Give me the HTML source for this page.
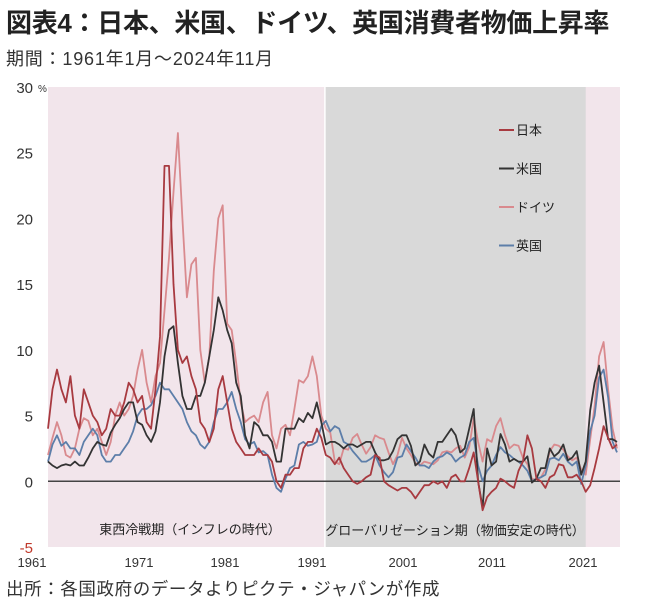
<!DOCTYPE html>
<html><head><meta charset="utf-8">
<style>
body{margin:0;background:#fff;width:649px;height:609px;overflow:hidden;font-family:"Liberation Sans","Noto Sans CJK JP",sans-serif;}
.t{position:absolute;white-space:nowrap;color:#222;}
</style></head>
<body>
<div class="t" style="left:6px;top:3px;font-size:26px;font-weight:bold;letter-spacing:-0.3px;">図表4：日本、米国、ドイツ、英国消費者物価上昇率</div>
<div class="t" style="left:6px;top:45px;font-size:18px;letter-spacing:0.8px;color:#333;">期間：1961年1月～2024年11月</div>
<div class="t" style="left:6px;top:576px;font-size:17.5px;letter-spacing:0.6px;color:#333;">出所：各国政府のデータよりピクテ・ジャパンが作成</div>
<svg id="chart" width="649" height="609" style="position:absolute;left:0;top:0" xmlns="http://www.w3.org/2000/svg"></svg>
<script>
const yTicks=[30,25,20,15,10,5,0,-5];
const xTickLabels=["1961","1971","1981","1991","2001","2011","2021"];
const seriesNames=["日本","米国","ドイツ","英国"];
const startYear=1961, stepYears=0.5;
const japan=[4,7,8.5,7,6,8,5,4,7,6,5,4.5,3.5,4,5.5,5,5,6,7.5,7,
6,6.5,4.5,4,7,11,24,24,15,10,9,9.5,8,7,4.5,4,3,4,7,8,
6,4,3,2.5,2,2,2,2.5,2,2,1.5,0,-0.5,0.5,0.5,1,1,2.5,3,3,
4,3.3,2,1.8,1.3,1.8,1,0.5,0,-0.2,0,0.3,0.5,2,1.8,0,-0.3,-0.5,-0.7,-0.5,
-0.5,-0.8,-1.3,-0.8,-0.3,-0.3,0,-0.2,0,-0.5,0.3,0.5,0,0,1,2.2,0,-2.2,-1.2,-0.8,
-0.5,0.2,0,-0.3,-0.5,0.8,1.5,3.5,2.5,0.2,0,-0.5,0.3,0.5,1.3,1.2,0.3,0.3,0.5,0,
-0.8,-0.3,1,2.5,4.2,3.3,2.5,2.8];
const usa=[1.5,1.2,1,1.2,1.3,1.2,1.5,1.2,1.2,1.8,2.5,3,2.8,2.7,3.7,4.3,4.8,5.5,6,6,
4.5,4.3,3.5,3,3.8,6,9.5,11.5,11.8,9,6.5,5.5,5.5,6.5,6.5,7.5,9.5,11.5,14,13,
11.5,10.5,7.5,6.5,3.5,2.5,4.5,4.2,3.5,3.5,3,1.5,1.5,4,4,4,4.8,4.5,5.2,4.8,
6,4.5,2.8,3,3,2.8,2.5,2.8,2.8,2.6,2.8,3,3,2.2,1.6,1.6,1.7,2.3,3.2,3.5,
3.5,2.7,1.2,1.5,2.8,2.1,1.8,3,3,3.5,4,3.5,2.2,2.5,4,5.5,0,-2,2.5,1.2,
1.5,3.6,2.8,1.5,1.7,1.5,1.5,1.9,-0.1,0.2,1,1,2.5,1.9,2.2,2.8,1.6,1.8,2.3,0.5,
1.5,5.4,7.5,8.8,6,3.2,3.2,3];
const germany=[2,3.3,4.5,3.5,2,1.8,2.5,4,4.8,4.6,3.5,4,3,2,3,5,6,5,5.5,6.5,
8.5,10,7.5,6,8,9,13,17,22,26.5,20,14,16.5,17,10,7.5,9.5,16,20,21,
12,11.5,9,6,4.5,4.8,5,4.5,6,6.8,3.5,2.5,4,4.3,3.5,5.5,7.7,7.5,8,9.5,
8,5,4,3.7,1.5,1.3,2.5,2.4,3.3,3.6,2.8,2.1,2.6,3.5,3.3,3.2,2.2,1.3,2,3.3,
2.5,2,1.4,1.2,1.5,1.4,1.3,1.6,2.2,2.3,2.2,2.5,2.7,1.8,2.6,4.8,3,1.5,3.2,3,
4.2,4.8,3.5,2.5,2.8,2.7,1.8,1.3,0.2,0.1,0.3,0.9,2.3,2.8,2.7,2.4,1.9,1.6,1.8,0.9,
0.5,3.2,5.7,9.5,10.6,7,4,2.5];
const uk=[1.5,2.8,3.5,2.7,3,2.5,2.5,2,3,3.5,4,3.5,2,1.5,1.5,2,2,2.5,3,3.8,
5,5.5,5.5,5.8,6.5,7.5,7,7,6.5,6,5.5,4.5,3.8,3.5,2.8,2.5,3,4.5,5.5,5.5,
6,6.8,5.5,4.5,3.2,2.8,3,2.2,2.3,2,0.5,-0.5,-0.8,0.2,1,1.2,2.8,3,2.7,2.8,
3,4.2,4.6,3.8,4.2,4,3,2.8,2.3,1.9,1.5,1.5,1.7,2,1.2,0.7,0.3,0.7,1.8,1.9,
2.8,2.3,1.8,1.2,1.2,1,1.5,1.8,1.9,2.2,2,1.5,1.8,2,3,3.3,1.2,0,0.8,1.2,
2,2.6,2.2,2,1.7,1.5,1.2,0.8,0,0.2,0.3,0.5,1.7,1.8,1.6,2.1,1.5,1.2,1.5,-0.2,
1.2,3.8,5,7.9,8.5,6.4,3,2.2];
const allSeries=[japan,usa,germany,uk];
const colors=["#a83a40","#333333","#d98a8e","#5d7ea9"];

const NS="http://www.w3.org/2000/svg";
const svg=document.getElementById('chart');
const X0=48,X1=620,Y0=87,Y1=547;
const xScale=yr=>X0+(yr-1961)/(2024.83-1961)*(X1-X0);
const yScale=v=>Y1-(v+5)/35*(Y1-Y0);
function mk(tag,attrs){const e=document.createElementNS(NS,tag);for(const k in attrs)e.setAttribute(k,attrs[k]);svg.appendChild(e);return e;}

let r=mk('rect',{x:X0,y:Y0,width:X1-X0,height:Y1-Y0,fill:'#f2e5eb'});


let g=mk('rect',{x:xScale(1991.9),y:Y0,width:xScale(2021)-xScale(1991.9),height:Y1-Y0,fill:'#d9d9d9'});


let gap=mk('line',{x1:xScale(1991.9),x2:xScale(1991.9),y1:Y0,y2:Y1,stroke:'#fff','stroke-width':1.5});



yTicks.forEach(v=>{
  const t=mk('text',{x:33,y:yScale(v)+6,'text-anchor':'end','font-size':15,fill:v<0?'#c0392b':'#333','font-family':'Liberation Sans, sans-serif'});
  t.textContent=String(v);
  
  
});
const pct=mk('text',{x:38,y:Y0+5,'font-size':10,fill:'#333'});
pct.textContent='%';



const labelX=[32,139,225,312,403,492,583];
xTickLabels.forEach((l,i)=>{
  const t=mk('text',{x:labelX[i],y:567,'text-anchor':'middle','font-size':13,fill:'#333'});
  t.textContent=l;
  
  
});

const zl=mk('line',{x1:X0,x2:X1,y1:yScale(0),y2:yScale(0),stroke:'#444','stroke-width':1.5});



const order=[2,3,1,0];
order.forEach(si=>{
  const d=allSeries[si];
  const pts=d.map((v,i)=>xScale(startYear+i*stepYears).toFixed(1)+','+yScale(v).toFixed(1)).join(' ');
  const p=mk('polyline',{points:pts,fill:'none',stroke:colors[si],'stroke-width':1.8,'stroke-linejoin':'round'});
  
  
});

seriesNames.forEach((n,i)=>{
  const y=130+i*38.5;
  const l=mk('line',{x1:499,x2:514,y1:y,y2:y,stroke:colors[i],'stroke-width':2});
  
  
  const t=mk('text',{x:516,y:y+5,'font-size':13,fill:'#222','font-family':'Liberation Sans, Noto Sans CJK JP, sans-serif'});
  t.textContent=n;
  
  
});

const p1=mk('text',{x:190,y:534,'text-anchor':'middle','font-size':13,fill:'#222','font-family':'Noto Sans CJK JP, sans-serif'});
p1.textContent='東西冷戦期（インフレの時代）';


const p2=mk('text',{x:455,y:535,'text-anchor':'middle','font-size':13,fill:'#222','font-family':'Noto Sans CJK JP, sans-serif'});
p2.textContent='グローバリゼーション期（物価安定の時代）';


</script>
</body></html>
